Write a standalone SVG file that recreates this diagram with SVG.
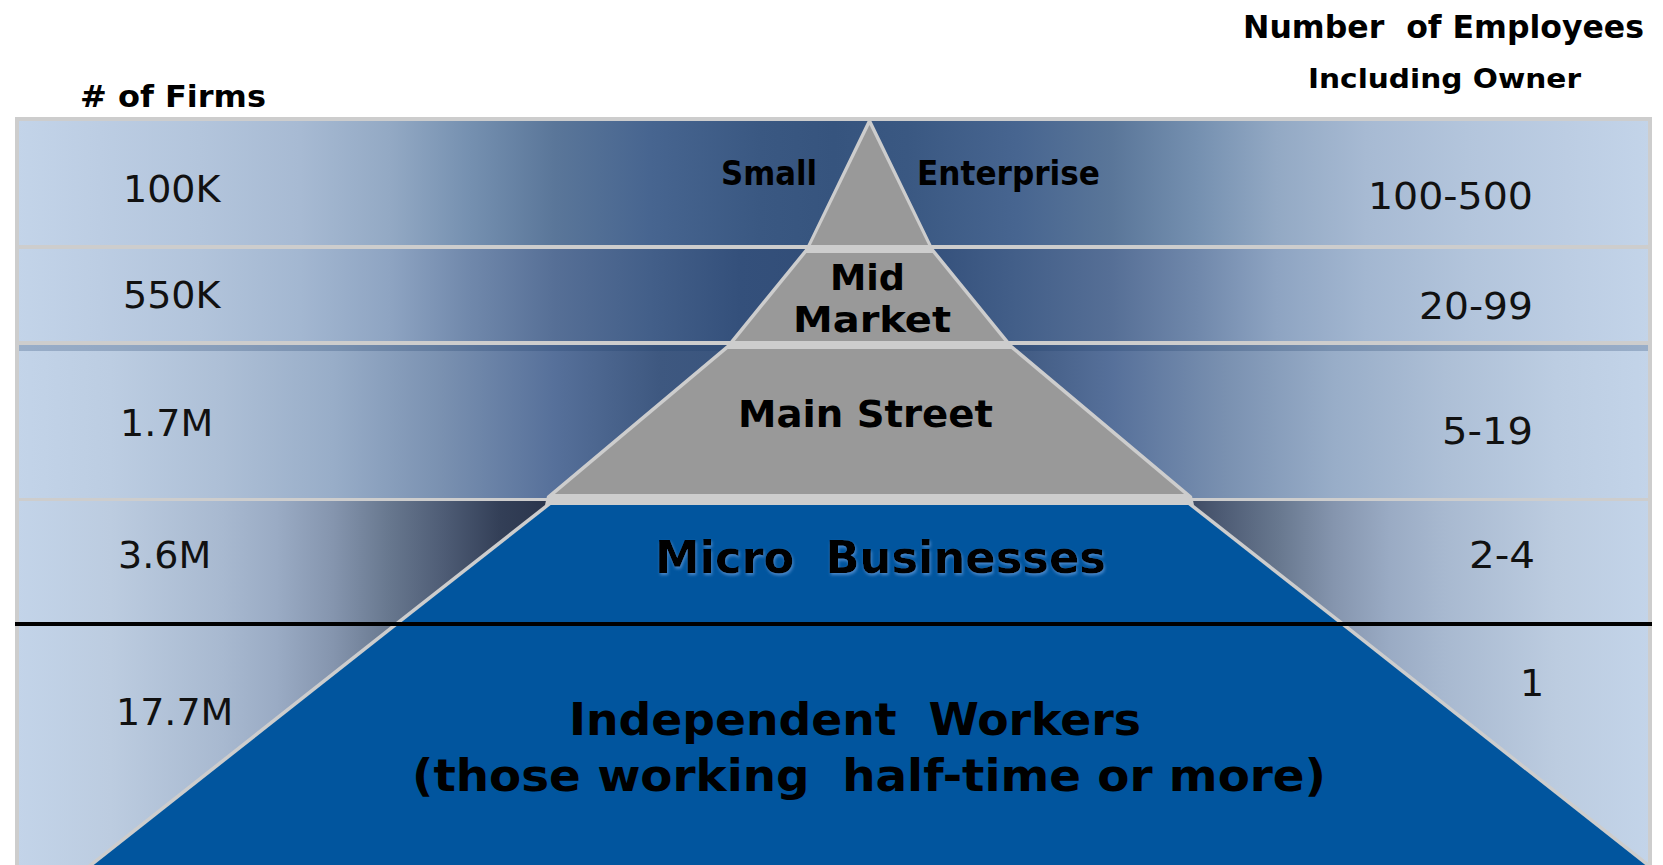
<svg xmlns="http://www.w3.org/2000/svg" width="1663" height="865" viewBox="0 0 1663 865">
  <style>
    .num { font-family: "DejaVu Sans", Verdana, sans-serif; font-size: 38px; fill: #111111; }
    .head { font-family: "DejaVu Sans", Verdana, sans-serif; font-weight: bold; fill: #000000; }
    .label { font-family: "DejaVu Sans", Verdana, sans-serif; font-weight: bold; fill: #000000; }
    .rule { fill: #cdcdcd; }
    .tier-grey { fill: #999999; }
    .tier-blue { fill: #01559e; }
  </style>
  <defs>
    <!-- each band fades from pale blue at the frame edges to navy in the middle (reflected about the centre) -->
    <linearGradient id="band1" gradientUnits="userSpaceOnUse" x1="17" y1="0" x2="833.5" y2="0" spreadMethod="reflect">
      <stop offset="0" stop-color="#c3d4e9"/>
      <stop offset="0.1017" stop-color="#bccde3"/>
      <stop offset="0.2241" stop-color="#b3c5dc"/>
      <stop offset="0.3466" stop-color="#a7bad3"/>
      <stop offset="0.4568" stop-color="#93a9c4"/>
      <stop offset="0.5548" stop-color="#7590b0"/>
      <stop offset="0.6589" stop-color="#5a7699"/>
      <stop offset="0.7753" stop-color="#476590"/>
      <stop offset="0.9100" stop-color="#3a5882"/>
      <stop offset="1" stop-color="#36547e"/>
    </linearGradient>
    <linearGradient id="band2" gradientUnits="userSpaceOnUse" x1="17" y1="0" x2="833.5" y2="0" spreadMethod="reflect">
      <stop offset="0" stop-color="#c3d4e9"/>
      <stop offset="0.1017" stop-color="#bccde3"/>
      <stop offset="0.2241" stop-color="#b2c4db"/>
      <stop offset="0.3466" stop-color="#a3b7d1"/>
      <stop offset="0.4568" stop-color="#8ea4c2"/>
      <stop offset="0.5548" stop-color="#7088ab"/>
      <stop offset="0.6589" stop-color="#566f96"/>
      <stop offset="0.7753" stop-color="#435f89"/>
      <stop offset="0.8855" stop-color="#34507b"/>
      <stop offset="1" stop-color="#314d77"/>
    </linearGradient>
    <linearGradient id="band3" gradientUnits="userSpaceOnUse" x1="17" y1="0" x2="833.5" y2="0" spreadMethod="reflect">
      <stop offset="0" stop-color="#c3d4e9"/>
      <stop offset="0.1151" stop-color="#bccde2"/>
      <stop offset="0.2511" stop-color="#adbfd6"/>
      <stop offset="0.3870" stop-color="#98adc8"/>
      <stop offset="0.5230" stop-color="#7990b0"/>
      <stop offset="0.6589" stop-color="#56709a"/>
      <stop offset="0.7875" stop-color="#3e5880"/>
      <stop offset="1" stop-color="#33507a"/>
    </linearGradient>
    <linearGradient id="band4" gradientUnits="userSpaceOnUse" x1="17" y1="0" x2="833.5" y2="0" spreadMethod="reflect">
      <stop offset="0" stop-color="#c3d4e9"/>
      <stop offset="0.1151" stop-color="#bccce0"/>
      <stop offset="0.2511" stop-color="#a8b9d0"/>
      <stop offset="0.3184" stop-color="#9aabc4"/>
      <stop offset="0.3870" stop-color="#8595ae"/>
      <stop offset="0.4544" stop-color="#68788f"/>
      <stop offset="0.5230" stop-color="#4e5c75"/>
      <stop offset="0.5915" stop-color="#333f57"/>
      <stop offset="0.6650" stop-color="#28334a"/>
      <stop offset="1" stop-color="#1f2a3e"/>
    </linearGradient>
    <filter id="halo" x="-5%" y="-30%" width="110%" height="160%">
      <feGaussianBlur in="SourceAlpha" stdDeviation="1.5" result="blur"/>
      <feOffset in="blur" dx="1" dy="2" result="shift"/>
      <feFlood flood-color="#5a93d4" flood-opacity="0.8"/>
      <feComposite in2="shift" operator="in"/>
      <feMerge>
        <feMergeNode/>
        <feMergeNode in="SourceGraphic"/>
      </feMerge>
    </filter>
  </defs>

  <!-- frame and band backgrounds -->
  <g id="bands">
    <rect class="rule" x="15" y="117" width="1637" height="748"/>
    <rect x="19" y="121" width="1629" height="124" fill="url(#band1)"/>
    <rect x="19" y="249" width="1629" height="92" fill="url(#band2)"/>
    <rect x="19" y="345" width="1629" height="153" fill="url(#band3)"/>
    <rect x="19" y="345" width="1629" height="6" fill="#1c3a66" opacity="0.25"/>
    <rect x="19" y="501" width="1629" height="364" fill="url(#band4)"/>
  </g>

  <!-- pyramid outline (pale rim and gaps between tiers) -->
  <g id="pyramid-frame">
    <polygon class="rule" points="869.5,117 806,248 727,345 547,496 545,505 396,622 88,865 1651,865 1343,622 1194,505 1192,496 1012,345 933,248"/>
  </g>

  <g id="tier-small-enterprise">
    <polygon class="tier-grey" points="869.5,125 810.9,245 928.1,245"/>
    <text class="label" x="721" y="185" font-size="33" textLength="96" lengthAdjust="spacingAndGlyphs">Small</text>
    <text class="label" x="917" y="185" font-size="33" textLength="183" lengthAdjust="spacingAndGlyphs">Enterprise</text>
  </g>

  <g id="tier-mid-market">
    <polygon class="tier-grey" points="806.4,253 932.6,253 1004.2,341 734.8,341"/>
    <text class="label" x="867.5" y="290" font-size="36" text-anchor="middle" textLength="75" lengthAdjust="spacingAndGlyphs">Mid</text>
    <text class="label" x="872" y="332" font-size="36" text-anchor="middle" textLength="158" lengthAdjust="spacingAndGlyphs">Market</text>
  </g>

  <g id="tier-main-street">
    <polygon class="tier-grey" points="727.7,349 1011.3,349 1184.1,494 554.9,494"/>
    <text class="label" x="865.5" y="427" font-size="38" text-anchor="middle" textLength="255" lengthAdjust="spacingAndGlyphs">Main Street</text>
  </g>

  <g id="tier-micro-and-independent">
    <polygon class="tier-blue" points="550.7,505 1188.3,505 1337.3,622 1645.3,865 93.7,865 401.7,622"/>
  </g>

  <!-- solid rule between micro businesses and independent workers -->
  <g id="divider">
    <rect x="15" y="622" width="1637" height="4" fill="#000000"/>
  </g>

  <g id="micro-businesses">
    <text class="label" x="880.5" y="573" font-size="44" text-anchor="middle" textLength="451" lengthAdjust="spacingAndGlyphs" xml:space="preserve" filter="url(#halo)">Micro  Businesses</text>
  </g>

  <g id="independent-workers">
    <text class="label" x="855" y="735" font-size="44" text-anchor="middle" textLength="572" lengthAdjust="spacingAndGlyphs" xml:space="preserve">Independent  Workers</text>
    <text class="label" x="869" y="791" font-size="44" text-anchor="middle" textLength="914" lengthAdjust="spacingAndGlyphs" xml:space="preserve">(those working  half-time or more)</text>
  </g>

  <!-- column headings -->
  <g id="heading-firms">
    <text class="head" x="80" y="107" font-size="31" textLength="186" lengthAdjust="spacingAndGlyphs"># of Firms</text>
  </g>
  <g id="heading-employees">
    <text class="head" x="1243" y="38" font-size="32" textLength="401" lengthAdjust="spacingAndGlyphs" xml:space="preserve">Number  of Employees</text>
    <text class="head" x="1308" y="88" font-size="27" textLength="273" lengthAdjust="spacingAndGlyphs">Including Owner</text>
  </g>

  <!-- firm counts, left column -->
  <g id="firm-counts">
    <text class="num" x="123" y="202">100K</text>
    <text class="num" x="123" y="308">550K</text>
    <text class="num" x="120" y="436">1.7M</text>
    <text class="num" x="118" y="568">3.6M</text>
    <text class="num" x="116" y="725">17.7M</text>
  </g>

  <!-- employee ranges, right column -->
  <g id="employee-ranges">
    <text class="num" x="1533" y="209" text-anchor="end" textLength="165" lengthAdjust="spacingAndGlyphs">100-500</text>
    <text class="num" x="1533" y="319" text-anchor="end" textLength="114" lengthAdjust="spacingAndGlyphs">20-99</text>
    <text class="num" x="1533" y="444" text-anchor="end" textLength="91" lengthAdjust="spacingAndGlyphs">5-19</text>
    <text class="num" x="1535" y="568" text-anchor="end" textLength="66" lengthAdjust="spacingAndGlyphs">2-4</text>
    <text class="num" x="1520" y="696">1</text>
  </g>
</svg>
